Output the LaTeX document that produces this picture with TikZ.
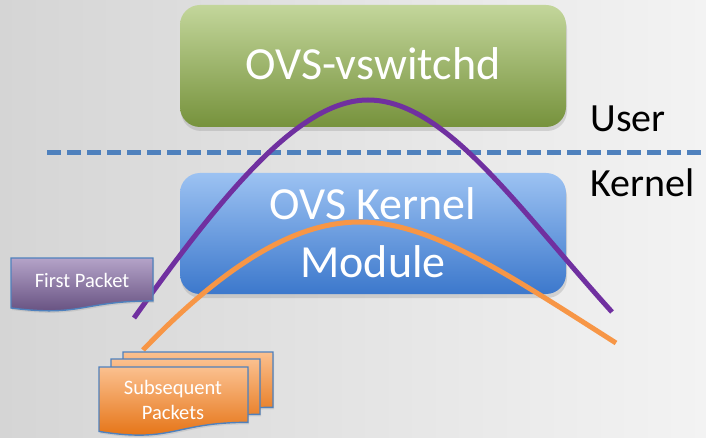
\documentclass[tikz,border=0pt]{standalone}
\usepackage{fontspec}
\setmainfont{Carlito}
\usetikzlibrary{shadows}
\definecolor{bgleft}{HTML}{D5D5D5}
\definecolor{bgmid}{HTML}{CFCFCF}
\definecolor{bglight}{HTML}{F3F3F3}
\definecolor{grntop}{HTML}{C3D69B}
\definecolor{grnbot}{HTML}{76923C}
\definecolor{blutop}{HTML}{9CC2F2}
\definecolor{blubot}{HTML}{3C78CC}
\definecolor{purp}{HTML}{7030A0}
\definecolor{orng}{HTML}{F79646}
\definecolor{dashblu}{HTML}{4F81BD}
\definecolor{pkpurtop}{HTML}{B4A3C8}
\definecolor{pkpurbot}{HTML}{5F497A}
\definecolor{pkorntop}{HTML}{FBC08F}
\definecolor{pkornbot}{HTML}{E36C09}
% office style "document" outline: x, y, width, height
\newcommand{\docpath}[4]{(#1,#2) -- ++(#3,0) -- ++(0,{0.802*#4})
  .. controls ({#1+#3/2},{#2+0.802*#4}) and ({#1+#3/2},{#2+1.107*#4}) .. ({#1},{#2+0.934*#4}) -- cycle}
\tikzset{
  layer/.style={rounded corners=20pt, drop shadow={shadow xshift=1pt, shadow yshift=-4pt, opacity=0.25}},
  boxtxt/.style={text=white, font=\fontsize{46}{58}\selectfont, align=center},
  sidetxt/.style={font=\fontsize{40}{48}\selectfont, anchor=base west},
  pkttxt/.style={text=white, font=\fontsize{20.5}{25}\selectfont, align=center},
  flow/.style={line width=5pt},
  pkt/.style={draw=dashblu, line width=1.4pt, drop shadow={shadow xshift=1pt, shadow yshift=-2pt, opacity=0.2}},
}

\begin{document}
\begin{tikzpicture}[x=1pt,y=-1pt]
 \useasboundingbox (0,0) rectangle (706,438);
 \shade[left color=bgleft, middle color=bgmid, right color=bglight] (0,0) rectangle (706,438);
 % the two layers
 \shade[layer, top color=grntop, bottom color=grnbot] (180,5) rectangle (566,127);
 \node[boxtxt] (vsd) at (373,80) [anchor=base] {OVS-vswitchd};
 \coordinate (sep0) at (47,153);
 \coordinate (sep1) at (706,153);
 \draw[dashblu, line width=5pt, dash pattern=on 14pt off 6pt] (sep0) -- (sep1);
 \node[sidetxt] (user) at (587,132) {User};
 \node[sidetxt] (kern) at (587,197) {Kernel};
 \shade[layer, top color=blutop, bottom color=blubot] (180,173) rectangle (566,294);
 \node[boxtxt] (kmod) at (373,233) {OVS Kernel\\Module};
 % packet paths
 \coordinate (p0) at (134,318);
 \coordinate (ptop) at (368,100);
 \coordinate (p1) at (612,312);
 \coordinate (q0) at (143,350);
 \coordinate (qtop) at (360,222);
 \coordinate (q1) at (616,343);
 \draw[flow, purp] (p0) .. controls (224,192) and (300,100) .. (ptop)
   .. controls (445,100) and (517,207) .. (p1);
 \draw[flow, orng] (q0) .. controls (243,246) and (310,222) .. (qtop)
   .. controls (430,222) and (506,273) .. (q1);
 % packets
 \shadedraw[pkt, top color=pkpurtop, bottom color=pkpurbot] \docpath{11}{258}{142}{53.5};
 \node[pkttxt] (first) at (82,287) [anchor=base] {First Packet};
 \shadedraw[pkt, top color=pkorntop, bottom color=pkornbot] \docpath{123}{352}{150}{69};
 \shadedraw[pkt, top color=pkorntop, bottom color=pkornbot] \docpath{111}{359}{149}{69};
 \shadedraw[pkt, top color=pkorntop, bottom color=pkornbot] \docpath{99}{367}{149}{69};
 \node[pkttxt] (subs) at (173,400) {Subsequent\\Packets};
\end{tikzpicture}
\end{document}
